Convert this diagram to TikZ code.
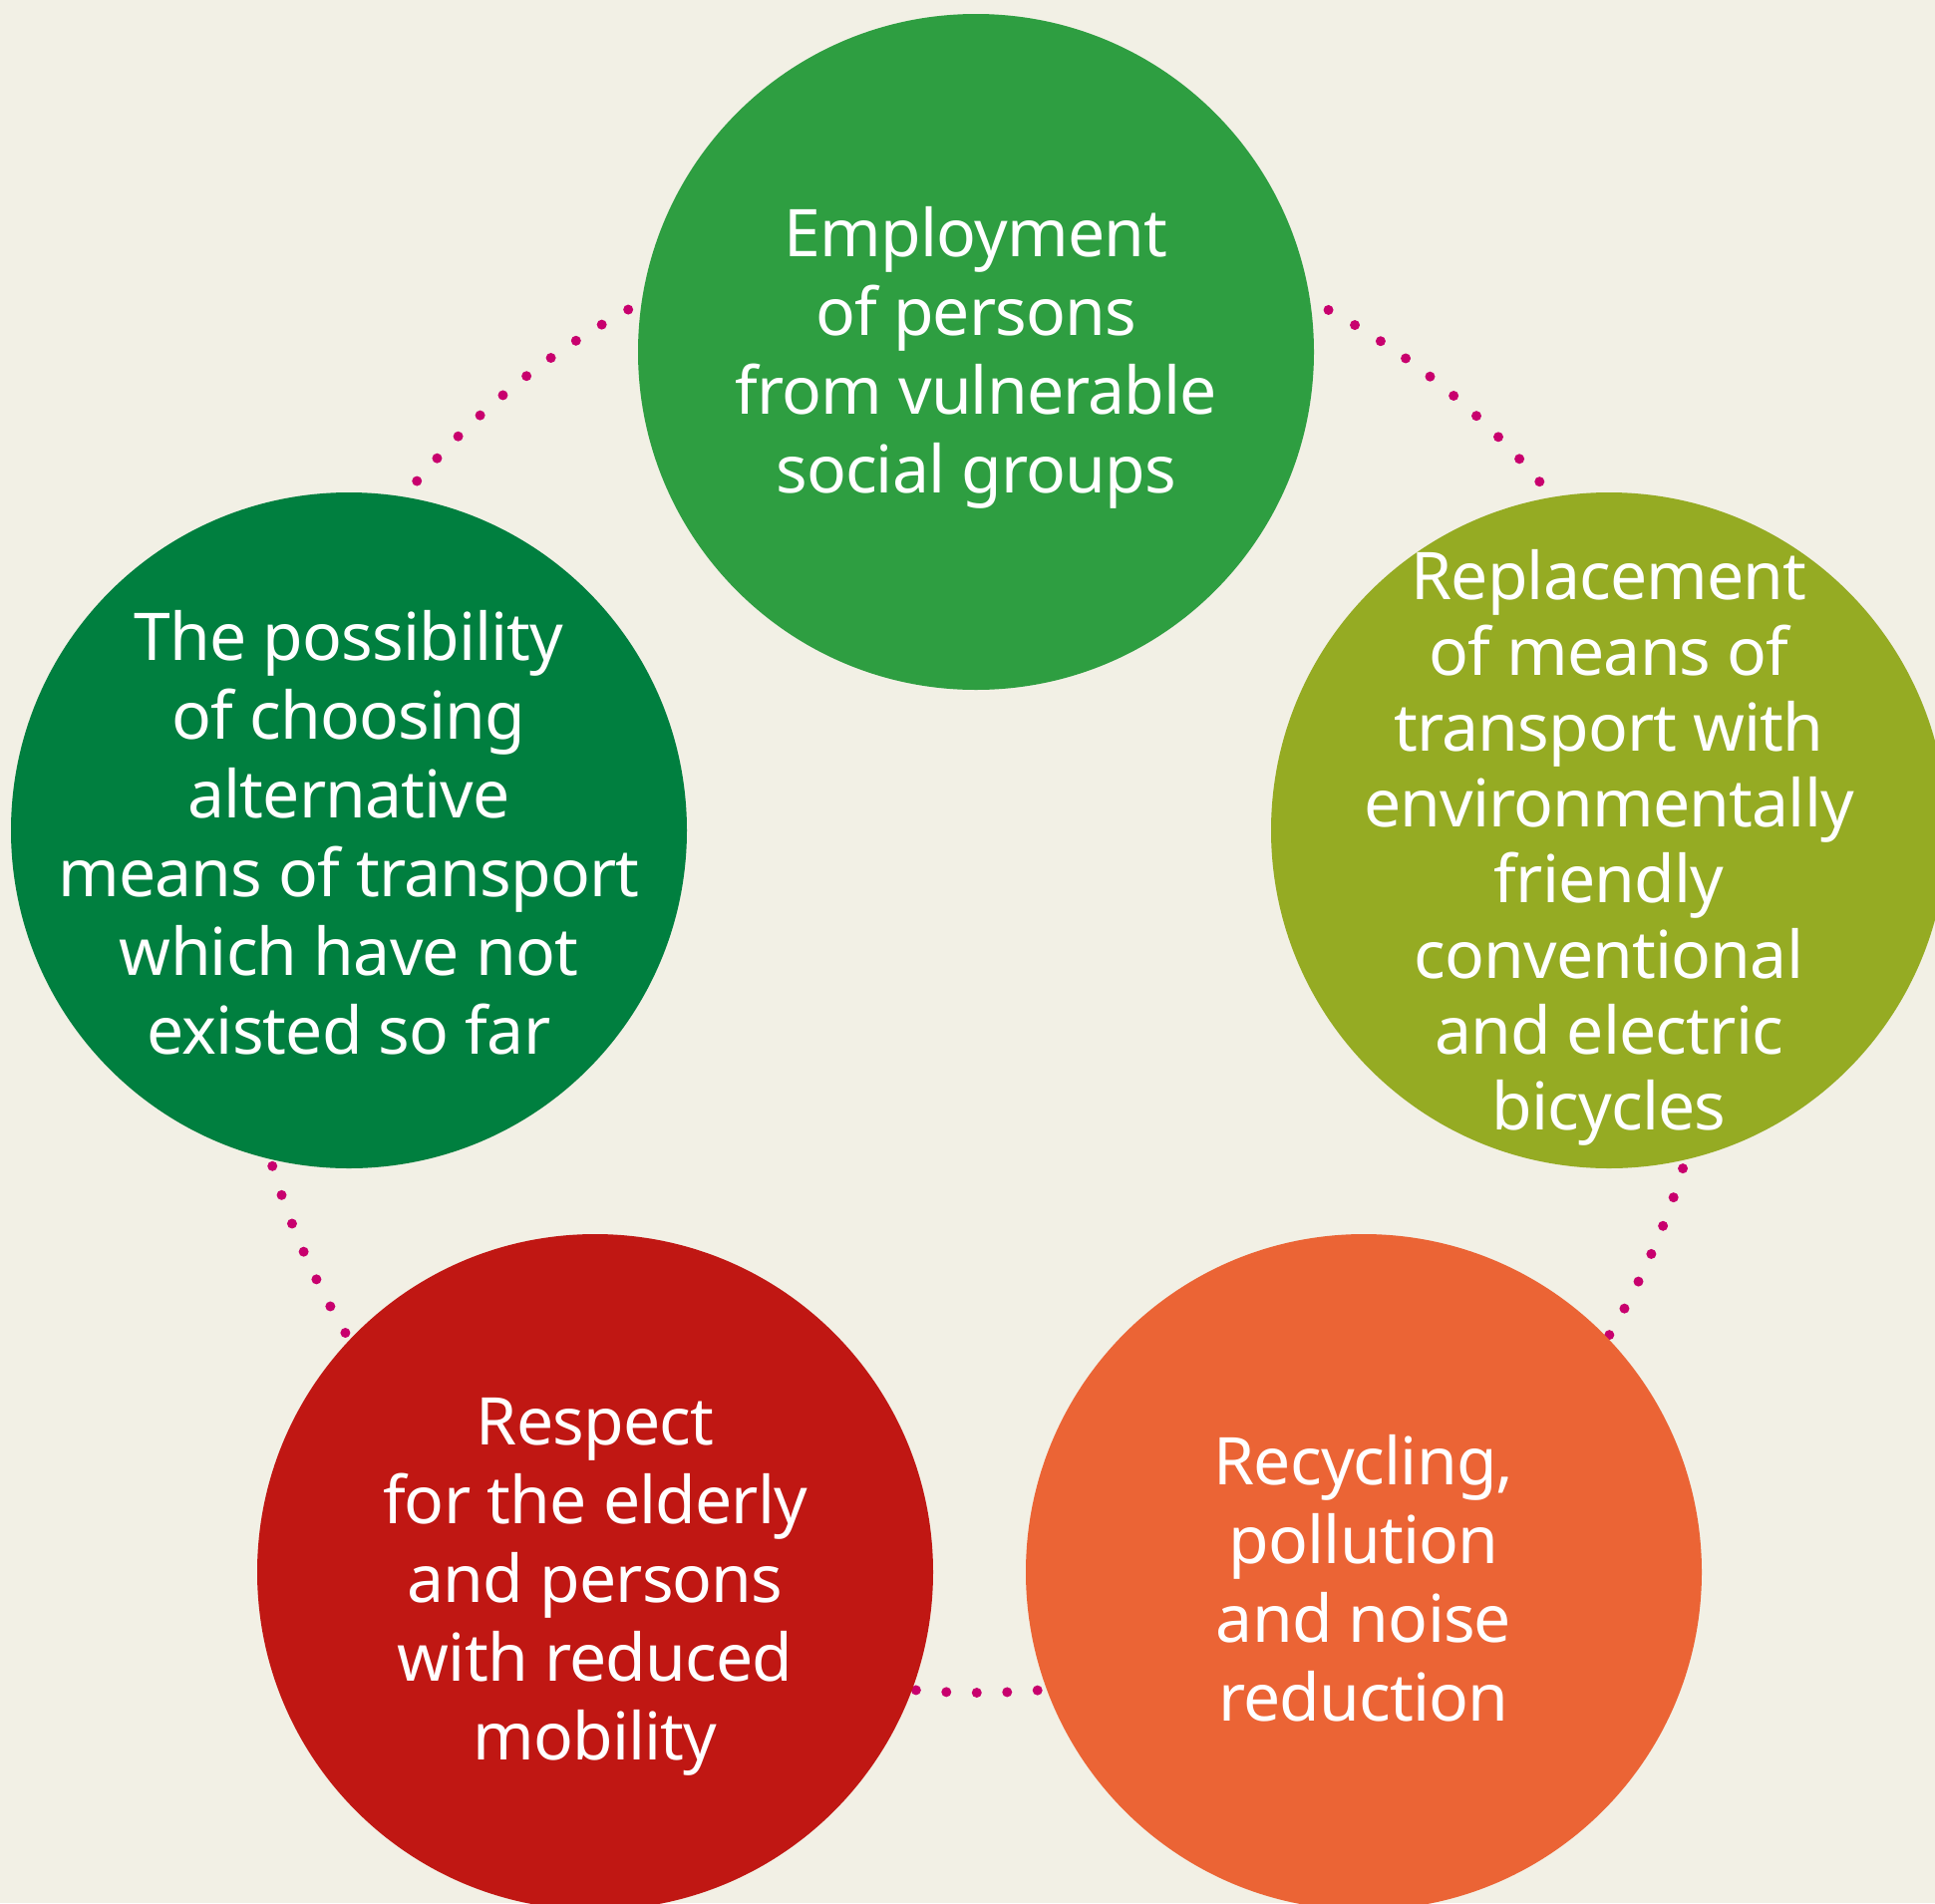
\documentclass[tikz,border=0pt]{standalone}
\usepackage{fontspec}
\setmainfont{Noto Sans}[LetterSpace=-1.3]
\definecolor{bg}{HTML}{F2F0E5}
\definecolor{cgreen}{HTML}{2E9E41}
\definecolor{cdark}{HTML}{007F3F}
\definecolor{colive}{HTML}{95AB23}
\definecolor{cred}{HTML}{C01713}
\definecolor{corange}{HTML}{EB6435}
\definecolor{cdot}{HTML}{C8006E}
\begin{document}
\begin{tikzpicture}[x=1pt,y=-1pt,
  bubble/.style={circle, draw=none, minimum size=678pt, inner sep=0pt},
  words/.style={text=white, align=center, inner sep=0pt, anchor=north,
    font=\fontsize{66}{79}\selectfont},
  dotring/.style={draw=cdot, line width=10pt, line cap=round, dash pattern=on 0pt off 30.5pt}]
\useasboundingbox (0,0) rectangle (1941,1909);
\clip (0,0) rectangle (1941,1909);
\fill[bg] (0,0) rectangle (1941,1909);
\coordinate (ring) at (981,960);
\draw[dotring] (ring) circle[radius=738pt];
\node[bubble, fill=cgreen]  (c1) at (979,353) {};
\node[bubble, fill=cdark]   (c2) at (350,833) {};
\node[bubble, fill=colive]  (c3) at (1614,833) {};
\node[bubble, fill=cred]    (c4) at (597,1577) {};
\node[bubble, fill=corange] (c5) at (1368,1577) {};
\node[words] (t1) at (979,201.7) {\strut Employment\\of persons\\from vulnerable\\social groups};
\node[words] (t2) at (350,606.6) {\strut The possibility\\of choosing\\alternative\\means of transport\\which have not\\existed so far};
\node[words, font=\fontsize{66}{76}\selectfont] (t3) at (1614,547.8) {\strut Replacement\\of means of\\transport with\\environmentally\\friendly\\conventional\\and electric\\bicycles};
\node[words] (t4) at (597,1394) {\strut Respect\\for the elderly\\and persons\\with reduced\\mobility};
\node[words] (t5) at (1368,1433.7) {\strut Recycling,\\pollution\\and noise\\reduction};
\end{tikzpicture}
\end{document}
